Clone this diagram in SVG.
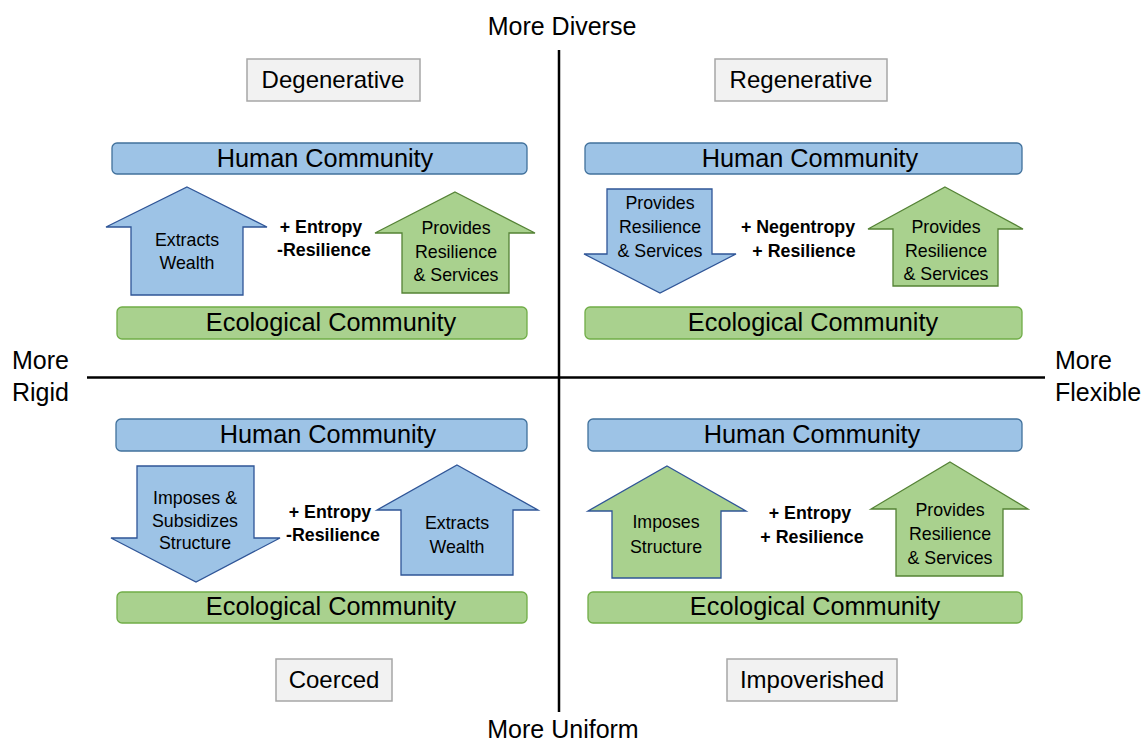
<svg xmlns="http://www.w3.org/2000/svg" width="1144" height="741" viewBox="0 0 1144 741">
<style>
text{font-family:"Liberation Sans",Arial,sans-serif;fill:#000;text-anchor:middle}
.ax{font-size:25px}
.ql{font-size:24px}
.bar{font-size:25.3px}
.at{font-size:17.8px}
.mid{font-size:17.8px;font-weight:bold}
.hb{fill:#9DC3E6;stroke:#41719C;stroke-width:1.3}
.eb{fill:#A9D18E;stroke:#70AD47;stroke-width:1.3}
.ba{fill:#9DC3E6;stroke:#2F5597;stroke-width:1.3}
.ga{fill:#A9D18E;stroke:#548235;stroke-width:1.3}
.gab{fill:#A9D18E;stroke:#2F5597;stroke-width:1.3}
.lb{fill:#F2F2F2;stroke:#A6A6A6;stroke-width:1.5}
.axis{stroke:#000;stroke-width:2.5;fill:none}
</style>
<rect width="1144" height="741" fill="#fff"/>
<g id="axes">
<line class="axis" x1="559" y1="50" x2="559" y2="712"/>
<line class="axis" x1="87" y1="377.5" x2="1045" y2="377.5"/>
</g>
<g id="axis-labels">
<text class="ax" x="562" y="35">More Diverse</text>
<text class="ax" x="563" y="738">More Uniform</text>
<text class="ax" x="12" y="369" style="text-anchor:start">More</text>
<text class="ax" x="12" y="401" style="text-anchor:start">Rigid</text>
<text class="ax" x="1055" y="369" style="text-anchor:start">More</text>
<text class="ax" x="1055" y="401" style="text-anchor:start">Flexible</text>
</g>
<g id="label-degenerative"><rect class="lb" x="247" y="59" width="173" height="42"/><text class="ql" x="333" y="88">Degenerative</text></g>
<g id="label-regenerative"><rect class="lb" x="715" y="59" width="172" height="42"/><text class="ql" x="801" y="88">Regenerative</text></g>
<g id="label-coerced"><rect class="lb" x="276" y="659" width="116" height="42"/><text class="ql" x="334" y="688">Coerced</text></g>
<g id="label-impoverished"><rect class="lb" x="727" y="659" width="170" height="42"/><text class="ql" x="812" y="688">Impoverished</text></g>

<g id="tl-human"><rect class="hb" x="112" y="143" width="415" height="31" rx="5"/><text class="bar" x="325" y="167">Human Community</text></g>
<g id="tl-eco"><rect class="eb" x="117" y="307" width="410" height="32" rx="5"/><text class="bar" x="331" y="331">Ecological Community</text></g>
<g id="tr-human"><rect class="hb" x="585" y="143" width="437" height="31" rx="5"/><text class="bar" x="810" y="167">Human Community</text></g>
<g id="tr-eco"><rect class="eb" x="585" y="307" width="437" height="32" rx="5"/><text class="bar" x="813" y="331">Ecological Community</text></g>
<g id="bl-human"><rect class="hb" x="116" y="419" width="411" height="32" rx="5"/><text class="bar" x="328" y="443">Human Community</text></g>
<g id="bl-eco"><rect class="eb" x="117" y="592" width="410" height="31" rx="5"/><text class="bar" x="331" y="615">Ecological Community</text></g>
<g id="br-human"><rect class="hb" x="588" y="419" width="434" height="32" rx="5"/><text class="bar" x="812" y="443">Human Community</text></g>
<g id="br-eco"><rect class="eb" x="588" y="592" width="434" height="31" rx="5"/><text class="bar" x="815" y="615">Ecological Community</text></g>

<g id="connectors">
<g id="tl-extracts"><polygon class="ba" points="187,187 267,227 243,227 243,295 131,295 131,227 106,227"/><text class="at" x="187" y="246">Extracts</text><text class="at" x="187" y="269">Wealth</text></g>
<g id="tl-provides"><polygon class="ga" points="455,192 535,233 509,233 509,293 402,293 402,233 375,233"/><text class="at" x="456" y="234">Provides</text><text class="at" x="456" y="258">Resilience</text><text class="at" x="456" y="281">&amp; Services</text></g>
<g id="tr-provides-down"><polygon class="ba" points="607,189 712,189 712,254 736,254 660,293 584,254 607,254"/><text class="at" x="660" y="209">Provides</text><text class="at" x="660" y="233">Resilience</text><text class="at" x="660" y="257">&amp; Services</text></g>
<g id="tr-provides-up"><polygon class="ga" points="945,187 1023,229 998,229 998,286 893,286 893,229 868,229"/><text class="at" x="946" y="233">Provides</text><text class="at" x="946" y="257">Resilience</text><text class="at" x="946" y="280">&amp; Services</text></g>
<g id="bl-imposes"><polygon class="ba" points="137,466 254,466 254,538 280,538 196,582 111,538 137,538"/><text class="at" x="195" y="504">Imposes &amp;</text><text class="at" x="195" y="527">Subsidizes</text><text class="at" x="195" y="549">Structure</text></g>
<g id="bl-extracts"><polygon class="ba" points="457,465 538,510 513,510 513,575 401,575 401,510 377,510"/><text class="at" x="457" y="529">Extracts</text><text class="at" x="457" y="553">Wealth</text></g>
<g id="br-imposes"><polygon class="gab" points="667,466 746,511 721,511 721,578 612,578 612,511 588,511"/><text class="at" x="666" y="528">Imposes</text><text class="at" x="666" y="553">Structure</text></g>
<g id="br-provides"><polygon class="ga" points="950,462 1028,509 1003,509 1003,576 896,576 896,509 871,509"/><text class="at" x="950" y="516">Provides</text><text class="at" x="950" y="540">Resilience</text><text class="at" x="950" y="564">&amp; Services</text></g>
</g>

<g id="tl-mid"><text class="mid" x="321" y="233">+ Entropy</text><text class="mid" x="324" y="256">-Resilience</text></g>
<g id="tr-mid"><text class="mid" x="798" y="233">+ Negentropy</text><text class="mid" x="804" y="257">+ Resilience</text></g>
<g id="bl-mid"><text class="mid" x="330" y="518">+ Entropy</text><text class="mid" x="333" y="541">-Resilience</text></g>
<g id="br-mid"><text class="mid" x="810" y="519">+ Entropy</text><text class="mid" x="812" y="543">+ Resilience</text></g>
</svg>
